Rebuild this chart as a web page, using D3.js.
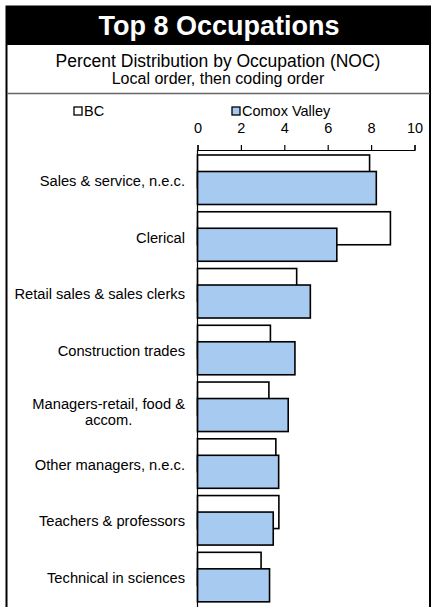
<!DOCTYPE html>
<html lang="en">
<head>
  <meta charset="UTF-8">
  <title>Top 8 Occupations</title>
  <style>
    body {
      margin: 0;
      background: #fff;
      font-family: "Liberation Sans", Arial, sans-serif;
    }
    svg text {
      fill: #000;
    }
  </style>
</head>
<body>
  <div id="chart"></div>

  <script src="https://d3js.org/d3.v7.min.js"></script>
  <script>
    // Data
    const categories = [
      "Sales & service, n.e.c.",
      "Clerical",
      "Retail sales & sales clerks",
      "Construction trades",
      "Managers-retail, food & accom.",
      "Other managers, n.e.c.",
      "Teachers & professors",
      "Technical in sciences"
    ];
    const bcValues = [7.93, 8.89, 4.57, 3.36, 3.29, 3.61, 3.75, 2.93];
    const comoxValues = [8.24, 6.42, 5.20, 4.49, 4.18, 3.74, 3.49, 3.32];
    const seriesNames = ["BC", "Comox Valley"];
    const tickValues = [0, 2, 4, 6, 8, 10];

    const width = 434;
    const height = 607;
    const plotLeft = 197.5, plotRight = 414.5;
    const plotTop = 150;
    const step = 56.76;
    const barH = 33;

    const svg = d3.select("#chart")
                  .append("svg")
                  .attr("width", width)
                  .attr("height", height);

    // frame + title band
    svg.append("rect")
       .attr("x", 6.5).attr("y", 6.5)
       .attr("width", 423.5).attr("height", 640)
       .attr("fill", "none")
       .attr("stroke", "#000")
       .attr("stroke-width", 2);

    svg.append("rect")
       .attr("x", 6).attr("y", 6)
       .attr("width", 425).attr("height", 39)
       .attr("fill", "#000");

    svg.append("text")
       .attr("x", 219).attr("y", 35)
       .attr("text-anchor", "middle")
       .style("font-size", "27px")
       .style("font-weight", "bold")
       .style("fill", "#fff")
       .text("Top 8 Occupations");

    svg.append("text")
       .attr("x", 218).attr("y", 67)
       .attr("text-anchor", "middle")
       .style("font-size", "17.5px")
       .text("Percent Distribution by Occupation (NOC)");

    svg.append("text")
       .attr("x", 218).attr("y", 84)
       .attr("text-anchor", "middle")
       .style("font-size", "16px")
       .text("Local order, then coding order");

    svg.append("line")
       .attr("x1", 7).attr("x2", 430)
       .attr("y1", 93.5).attr("y2", 93.5)
       .attr("stroke", "#666")
       .attr("stroke-width", 1.5);

    // scales
    const x = d3.scaleLinear().domain([0, 10]).range([plotLeft, plotRight]);
    const y = d3.scaleBand()
                .domain(categories)
                .range([plotTop, plotTop + step * categories.length])
                .padding(0);

    // axis on top
    svg.append("g")
       .attr("transform", `translate(0, ${plotTop})`)
       .call(d3.axisTop(x).tickValues(tickValues).tickSize(5).tickPadding(12))
       .call(g => {
         g.selectAll("path, line").attr("stroke", "#000").attr("stroke-width", 1.2);
         g.selectAll("text")
          .style("font-size", "14.5px")
          .style("font-family", "'Liberation Sans', Arial, sans-serif")
          .attr("fill", "#000");
       });

    // bars, BC behind, Comox overlapping lower half
    const groups = svg.selectAll(".cat")
                      .data(categories)
                      .enter()
                      .append("g")
                      .attr("class", "cat");

    groups.append("rect")
          .attr("x", x(0))
          .attr("y", d => y(d) + 5)
          .attr("width", (d, i) => x(bcValues[i]) - x(0))
          .attr("height", barH)
          .attr("fill", "#fff")
          .attr("stroke", "#000")
          .attr("stroke-width", 1.6);

    groups.append("rect")
          .attr("x", x(0))
          .attr("y", d => y(d) + 5 + barH / 2)
          .attr("width", (d, i) => x(comoxValues[i]) - x(0))
          .attr("height", barH)
          .attr("fill", "#a6caf0")
          .attr("stroke", "#000")
          .attr("stroke-width", 1.6);

    // vertical axis line
    svg.append("line")
       .attr("x1", x(0)).attr("x2", x(0))
       .attr("y1", plotTop).attr("y2", height)
       .attr("stroke", "#000")
       .attr("stroke-width", 1.2);

    // category labels, wrapped if too wide
    const labelRight = 185;
    const maxW = 178;
    groups.each(function(d) {
      const g = d3.select(this);
      const cy = y(d) + 5 + barH * 0.75;
      const words = d.split(" ");
      const t = g.append("text").style("font-size", "14.7px");
      let lines = [];
      let cur = [];
      const probe = t.append("tspan");
      words.forEach(w => {
        const test = cur.concat(w).join(" ");
        probe.text(test);
        if (probe.node().getComputedTextLength() > maxW && cur.length) {
          lines.push(cur.join(" "));
          cur = [w];
        } else {
          cur.push(w);
        }
      });
      lines.push(cur.join(" "));
      probe.remove();

      if (lines.length === 1) {
        t.attr("x", labelRight).attr("y", cy + 6)
         .attr("text-anchor", "end")
         .text(lines[0]);
      } else {
        const lh = 16.5;
        let widest = 0;
        lines.forEach((ln, k) => {
          const ts = t.append("tspan")
                      .attr("x", 0)
                      .attr("y", cy + 10 + (k - (lines.length - 1) / 2) * lh)
                      .text(ln);
          widest = Math.max(widest, ts.node().getComputedTextLength());
        });
        t.attr("text-anchor", "middle");
        t.selectAll("tspan").attr("x", labelRight - widest / 2);
      }
    });

    // legend
    const legendX = [74, 232];
    const legendFill = ["#fff", "#a6caf0"];
    seriesNames.forEach((name, i) => {
      svg.append("rect")
         .attr("x", legendX[i]).attr("y", 107)
         .attr("width", 8).attr("height", 8)
         .attr("fill", legendFill[i])
         .attr("stroke", "#000")
         .attr("stroke-width", 1.3);
      svg.append("text")
         .attr("x", legendX[i] + 10).attr("y", 116)
         .style("font-size", "14.5px")
         .text(name);
    });
  </script>
</body>
</html>
